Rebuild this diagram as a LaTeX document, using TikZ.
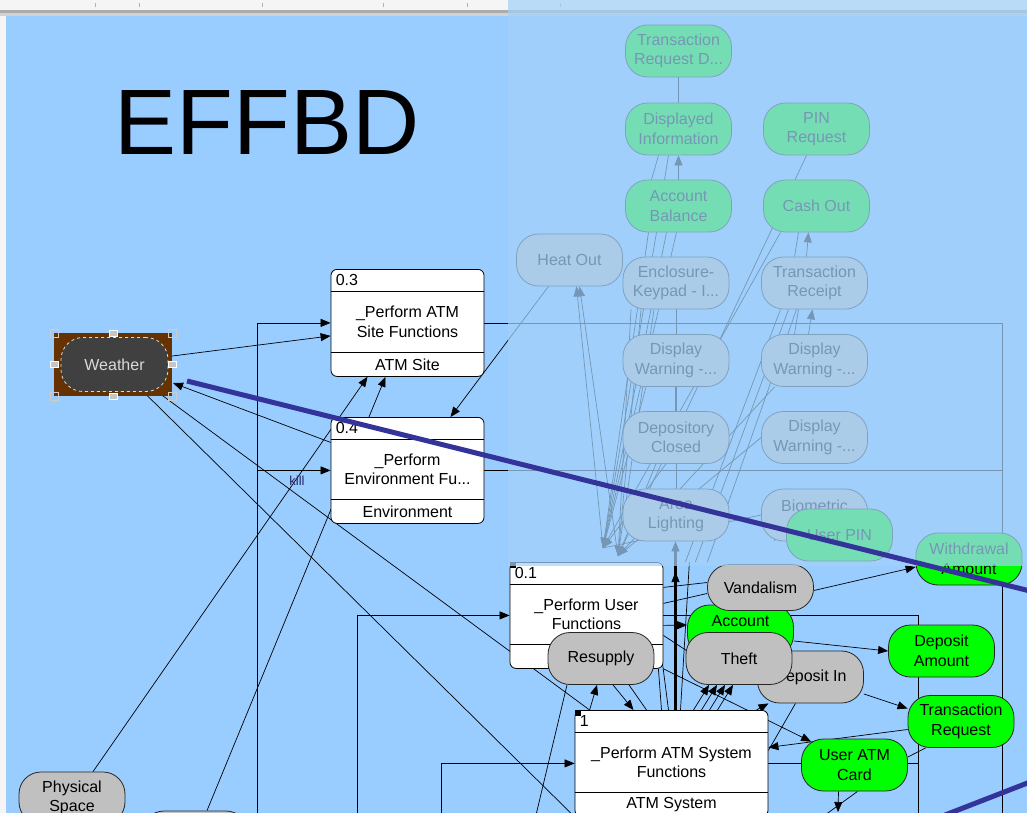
\documentclass[tikz,border=0pt]{standalone}
\usepackage{fontspec}
\setmainfont{Liberation Sans}
\usetikzlibrary{arrows.meta}

\definecolor{canvas}{HTML}{99CCFF}
\definecolor{veil}{HTML}{A3D1FA}
\definecolor{itemgray}{HTML}{C0C0C0}
\definecolor{itemgreen}{HTML}{00FF00}
\definecolor{weatherfill}{HTML}{404040}
\definecolor{selbrown}{HTML}{663300}
\definecolor{pen}{HTML}{333399}

\pgfdeclarelayer{bg}
\pgfdeclarelayer{edges}
\pgfdeclarelayer{fade}
\pgfdeclarelayer{top}
\pgfsetlayers{bg,edges,main,fade,top}

\newcommand{\nodefont}{\fontsize{16}{19.5}\selectfont}

\tikzset{
  flow/.style={draw=black!85, line width=0.8pt, rounded corners=22pt,
    minimum width=106pt, minimum height=52pt, inner sep=0pt,
    align=center, font=\nodefont},
  item/.style={flow, fill=itemgray},
  datum/.style={flow, fill=itemgreen},
  funcbox/.style={draw, fill=white, line width=0.8pt, rounded corners=6pt, inner sep=0pt},
  rowline/.style={line width=0.8pt},
  boxtext/.style={font=\nodefont, inner sep=0pt, align=center},
  link/.style={line width=0.7pt},
  arr/.style={link, -{Triangle[length=10pt,width=8pt]}},
  cut/.style={pen, line width=5pt},
}

% function block: name, top point, width, height, number, title, footer
\newcommand{\funcblock}[7]{%
  \node[funcbox, minimum width=#3, minimum height=#4, anchor=north] (#1) at #2 {};
  \draw[rowline] ([yshift=-22pt]#1.north west) -- ([yshift=-22pt]#1.north east);
  \draw[rowline] ([yshift=24pt]#1.south west) -- ([yshift=24pt]#1.south east);
  \node[boxtext, anchor=west] (#1-num) at ([xshift=5pt,yshift=-11pt]#1.north west) {#5};
  \node[boxtext] (#1-title) at ([yshift=1pt]#1.center) {#6};
  \node[boxtext] (#1-foot) at ([yshift=12pt]#1.south) {#7};
}

\begin{document}
\begin{tikzpicture}[x=1pt,y=-1pt]
	\useasboundingbox (0,0) rectangle (1027,813);
	\clip (0,0) rectangle (1027,813);

	\begin{pgfonlayer}{bg}
		\fill[canvas] (0,0) rectangle (1027,813);
		\fill[gray!8] (0,0) rectangle (1027,10);
		\fill[gray!65] (0,10) rectangle (1027,13);
		\fill[gray!35] (0,13) rectangle (1027,16);
		\fill[gray!8] (0,16) rectangle (6,813);
		\foreach \x in {95,139,262,383,467,560}
			\draw[gray!60] (\x,3) -- (\x,7);
	\end{pgfonlayer}

	\node[font=\fontsize{93}{93}\selectfont, inner sep=0pt] (title) at (267,123) {EFFBD};

	\coordinate (leftbar) at (257,815);
	\coordinate (rightbar) at (1002,815);
	\coordinate (userbar) at (357,815);
	\coordinate (acctbar) at (918,815);
	\coordinate (sysbar) at (441,815);
	\coordinate (weatherin) at (173,383);
	\coordinate (hub) at (603,548);
	\coordinate (hub2) at (618,556);
	\coordinate (spine) at (675.5,545);
	\coordinate (spinetip) at (675.5,572);
	\coordinate (atmout) at (838,812);
	\coordinate (atmtail) at (825,815);
	\coordinate (supplytail) at (536,815);
	\coordinate (cutA1) at (187,381);
	\coordinate (cutA2) at (1030,591);
	\coordinate (cutB1) at (945,815);
	\coordinate (cutB2) at (1030,782);

	% function blocks
	\funcblock{f03}{(407.5,269)}{153pt}{107pt}{0.3}{\_Perform ATM\\Site Functions}{ATM Site}
	\funcblock{f04}{(407.5,417)}{153pt}{106pt}{0.4}{\_Perform\\Environment Fu...}{Environment}
	\funcblock{f01}{(586.5,562)}{153pt}{106pt}{0.1}{\_Perform User\\Functions}{}
	\funcblock{f1}{(671.5,710)}{193pt}{106pt}{1}{\_Perform ATM System\\Functions}{ATM System}
	\fill (f01.north west) rectangle ++(6,6);
	\fill (f1.north west) rectangle ++(6,6);

	% faded items behind the veil
	\node[datum] (trd) at (678.5,51) {Transaction\\Request D...};
	\node[datum] (dispinfo) at (678.5,129) {Displayed\\Information};
	\node[datum] (acctbal) at (678.5,206) {Account\\Balance};
	\node[datum] (pinreq) at (816.5,129) {PIN\\Request};
	\node[datum] (cashout) at (816.5,206) {Cash Out};
	\node[item] (heatout) at (569.5,260) {Heat Out};
	\node[item] (enclosure) at (676,283) {Enclosure-\\Keypad - I...};
	\node[item] (txnreceipt) at (814.5,283) {Transaction\\Receipt};
	\node[item] (warn1) at (676,360.5) {Display\\Warning -...};
	\node[item] (warn2) at (814.5,360.5) {Display\\Warning -...};
	\node[item] (depclosed) at (676,437.5) {Depository\\Closed};
	\node[item] (warn3) at (814.5,437.5) {Display\\Warning -...};
	\node[item] (arealight) at (676,515) {Area\\Lighting};
	\node[item] (biometric) at (814.5,515) {Biometric\\R...};
	\node[datum] (userpin) at (839.5,535) {User PIN};

	% items
	\node[item] (physical) at (72,798) {Physical\\Space};
	\node[item, minimum width=106pt] (lowitem) at (195,837) {};
	\node[datum] (withdrawal) at (969,559) {Withdrawal\\Amount};
	\node[datum] (account) at (740.5,631) {Account\\~};
	\node[item] (depositin) at (810.5,677) {Deposit In};
	\node[item, minimum height=46pt] (vandalism) at (760.5,587.5) {Vandalism};
	\node[item] (theft) at (739,658.5) {Theft};
	\node[item] (resupply) at (601,658.5) {Resupply};
	\node[datum] (depositamt) at (941.5,651) {Deposit\\Amount};
	\node[datum] (txnreq) at (961,721.5) {Transaction\\Request};
	\node[datum] (useratm) at (854.5,765) {User ATM\\Card};

	% selected item
	\fill[selbrown] (54,333) rectangle (172,396);
	\node[flow, fill=weatherfill, draw=white!85!black, dashed, text=white!85!black,
		minimum width=107pt, minimum height=54pt] (weather) at (114.5,364.5) {Weather};
	\foreach \hx/\hy in {54/333,172/333,54/396,172/396}
		\draw[white!80!black, line width=0.8pt] (\hx-4,\hy-4) rectangle (\hx+4,\hy+4);
	\foreach \hx/\hy in {113/333,113/396,54/364.5,172/364.5}
		\filldraw[fill=gray!45, draw=white, line width=0.6pt] (\hx-4,\hy-3) rectangle (\hx+4,\hy+3);

	\node[font=\fontsize{13}{13}\selectfont, text=pen!70!black, inner sep=0pt] (kill) at (297,481) {kill};

	\begin{pgfonlayer}{edges}
		% parallel brackets
		\draw[arr] (leftbar) |- (f03.west);
		\draw[arr] (leftbar) |- (f04.west);
		\draw[link] (f03.east) -| (rightbar);
		\draw[link] (f04.east) -- (f04.east -| rightbar);
		\draw[arr] (userbar) |- (f01.west);
		\draw[link] (f01.east) -| (acctbar);
		\draw[arr] (sysbar) |- (f1.west);
		\draw[link] (f1.east) -- (f1.east -| acctbar);

		% weather
		\draw[arr] ([yshift=8pt]weather.east) -- ([yshift=-13pt]f03.west);
		\draw[arr] ([yshift=28pt]f04.west) -- (weatherin);
		\draw[link] ([xshift=29pt]weather.south) -- (f1.south west);
		\draw[link] ([xshift=43pt]weather.south) -- ([xshift=15pt]f1.north west);

		\draw[arr] ([xshift=21pt]physical.north) -- ([xshift=-40pt]f03.south);
		\draw[arr] ([xshift=12pt]lowitem.north) -- ([xshift=-22pt]f03.south);
		\draw[arr] ([xshift=-21pt]heatout.south) -- ([xshift=43pt]f04.north);

		% upper columns
		\draw[link] (trd.south) -- (dispinfo.north);
		\draw[link] ([xshift=-27pt]acctbal.north) -- ([xshift=-20pt]dispinfo.south);
		\draw[link] ([xshift=-14pt]acctbal.north) -- ([xshift=-10pt]dispinfo.south);
		\draw[arr] ([xshift=0pt]acctbal.north) -- ([xshift=0pt]dispinfo.south);
		\foreach \dx in {-30,-22,-12,-2}
			\draw[arr] ([xshift=\dx pt]acctbal.south) -- (hub);
		\foreach \dx in {-45,-35,-22}
			\draw[arr] ([xshift=\dx pt]enclosure.south) -- (hub2);
		\draw[link] (enclosure.south) -- (warn1.north);
		\draw[link, line width=1.4pt] (warn1.south) -- (depclosed.north);
		\draw[link] (depclosed.south) -- (arealight.north);
		\draw[arr] ([xshift=-30pt]warn1.south) -- (hub);
		\draw[arr] ([xshift=-20pt]depclosed.south) -- (hub2);
		\draw[arr] ([xshift=-10pt]depclosed.south) -- (hub);
		\draw[arr] (hub) -- ([xshift=7pt]heatout.south);
		\draw[arr] (hub2) -- ([xshift=10pt]heatout.south);
		\draw[arr] ([xshift=-10pt]pinreq.south) -- (hub2);
		\draw[arr] ([xshift=-36pt]cashout.south) -- (hub);
		\draw[link] ([xshift=-20pt]txnreceipt.north) -- ([xshift=-18pt]cashout.south);
		\draw[arr] ([xshift=-8pt]txnreceipt.north) -- ([xshift=-8pt]cashout.south);
		\draw[link] ([xshift=-20pt]warn2.north) -- ([xshift=-16pt]txnreceipt.south);
		\draw[arr] ([xshift=-6pt]warn2.north) -- ([xshift=-2pt]txnreceipt.south);
		\foreach \dx/\ex in {-34/22,-26/32,-18/44}
			\draw[link] ([xshift=\dx pt]txnreceipt.south) -- ([xshift=\ex pt]f01.north east);
		\draw[arr] ([xshift=-40pt]warn2.south) -- (hub2);
		\draw[link] (warn3.west) -- (hub2);
		\draw[link] (biometric.west) -- (hub);
		\draw[arr] ([xshift=-30pt]biometric.north) -- ([xshift=-40pt]biometric.south);

		% spine
		\draw[link, line width=2.5pt] (f1.north -| spine) -- (spine);
		\draw[arr] (f1.north -| spine) -- (spinetip);
		\draw[arr] (spinetip) -- (arealight.south -| spine);
		\draw[link] ([xshift=-3pt]f1.north) -- ([xshift=-14pt]f01.north east);
		\draw[link] ([xshift=9pt]f1.north) -- ([xshift=26pt]f01.north east);

		% user block links
		\draw[link] ([yshift=28pt]f01.east) -- ([yshift=5pt]vandalism.west);
		\draw[link] ([yshift=12pt]f01.east) -- ([yshift=-6pt]vandalism.west);
		\draw[arr] ([yshift=-10pt]f01.east) -- ([yshift=6pt]account.west);
		\draw[link] ([yshift=-20pt]f01.east) -- ([yshift=-20pt]account.west);

		% gap between blocks
		\draw[arr] ([xshift=15pt]f1.north west) -- ([xshift=-4pt]resupply.south);
		\draw[arr] ([xshift=12pt]resupply.south) -- ([xshift=-38pt]f1.north);
		\draw[link] ([xshift=28pt]resupply.south) -- ([xshift=-25pt]f1.north);
		\draw[link] ([xshift=-5pt]f01.south east) -- ([xshift=-10pt]f1.north);
		\foreach \dx/\ex in {-30/22,-22/30,-14/38,-6/46}
			\draw[arr] ([xshift=\ex pt]f1.north) -- ([xshift=\dx pt]theft.south);
		\draw[arr] ([xshift=-12pt]f1.north east) -- ([xshift=-42pt]depositin.south);
		\draw[link] ([xshift=-15pt]depositin.south) -- ([yshift=13pt]f1.east);
		\draw[arr] (f01.south east) -- ([xshift=10pt,yshift=-3pt]useratm.north west);
		\draw[link] ([xshift=-34pt]resupply.south) -- (supplytail);

		% right side items
		\draw[arr] ([yshift=-3pt]vandalism.east) -- ([yshift=-8pt]withdrawal.west);
		\draw[arr] ([yshift=-10pt]account.east) -- (depositamt.west);
		\draw[arr] ([yshift=-17pt]depositin.east) -- ([yshift=13pt]txnreq.west);
		\draw[arr] ([yshift=-8pt]txnreq.west) -- ([yshift=16pt]f1.east);
		\draw[link] ([xshift=18pt]txnreq.south west) -- ([yshift=8pt]useratm.east);
		\draw[arr] ([xshift=-16pt]useratm.south) -- (atmout);
		\draw[link] ([xshift=3pt]useratm.south) -- (atmtail);
	\end{pgfonlayer}

	\begin{pgfonlayer}{fade}
		\fill[veil, opacity=0.72] (508,0) rectangle (1027,566);
	\end{pgfonlayer}

	\begin{pgfonlayer}{top}
		\draw[cut] (cutA1) -- (cutA2);
		\draw[cut] (cutB1) -- (cutB2);
	\end{pgfonlayer}
\end{tikzpicture}
\end{document}
